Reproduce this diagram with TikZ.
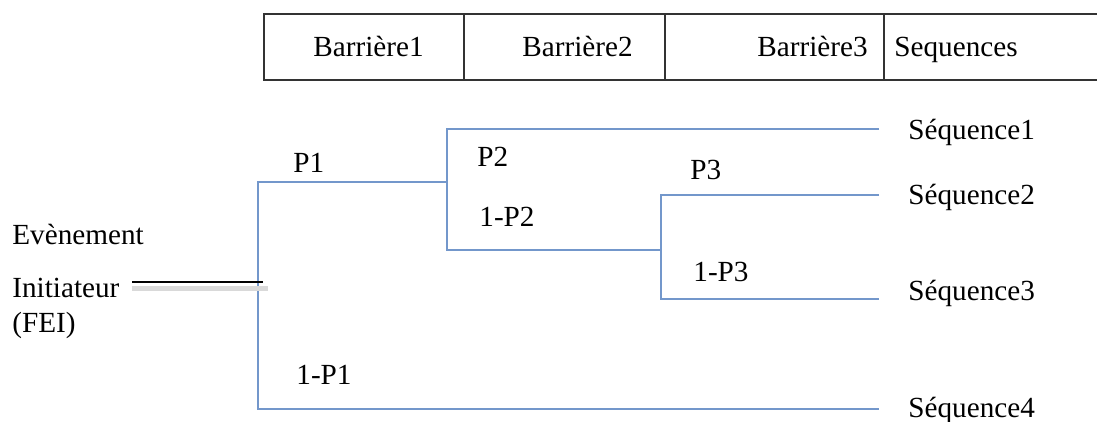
\documentclass[tikz,border=0pt]{standalone}
\usepackage{fontspec}
\setmainfont{Liberation Serif}
\definecolor{branchblue}{HTML}{7397CB}

\begin{document}
\begin{tikzpicture}[
    x=0.5pt,
    y=-0.5pt,
    branch/.style={branchblue,line width=1pt},
    cell/.style={black!80,line width=0.9pt},
    lbl/.style={anchor=base west,inner sep=0pt,font=\fontsize{14.6}{17}\selectfont},
  ]
  \useasboundingbox (0,0) rectangle (1097,422);
  % header
  \draw[cell] (1097,14) -- (264,14) -- (264,80) -- (1097,80);
  \foreach \x in {464,665,884}
    \draw[cell] (\x,14) -- (\x,80);
  \foreach \n/\x/\t in {barA/313/Barrière1,barB/522/Barrière2,barC/757/Barrière3,seqs/894/Sequences}
    \node[lbl] (\n) at (\x,57) {\t};
  % branch points
  \coordinate (fei) at (132,282);
  \coordinate (root) at (263,282);
  \coordinate (a1) at (258,182);
  \coordinate (a0) at (258,409);
  \coordinate (b) at (447,182);
  \coordinate (b1) at (447,129);
  \coordinate (b0) at (447,250);
  \coordinate (c) at (661,250);
  \coordinate (c1) at (661,195);
  \coordinate (c0) at (661,299);
  \foreach \i/\yy in {1/129,2/195,3/299,4/409}
    \coordinate (e\i) at (879,\yy);
  % tree
  \draw[branch] (b) -- (a1) -- (a0) -- (e4);
  \draw[branch] (e1) -- (b1) -- (b0) -- (c);
  \draw[branch] (e2) -- (c1) -- (c0) -- (e3);
  \draw[gray!30,line width=2.4pt] ([yshift=-3.2pt]fei) -- ([xshift=2.5pt,yshift=-3.2pt]root);
  \draw[black,line width=1.4pt] (fei) -- (root);
  % labels
  \node[lbl] (ev) at (12,245) {Evènement};
  \node[lbl] (init) at (12,298) {Initiateur};
  \node[lbl] (fe) at (12,332) {(FEI)};
  \node[lbl] (p1) at (293,173) {P1};
  \node[lbl] (p2) at (477,167) {P2};
  \node[lbl] (q2) at (479,227) {1-P2};
  \node[lbl] (p3) at (690,180) {P3};
  \node[lbl] (q3) at (693,282) {1-P3};
  \node[lbl] (q1) at (296,384) {1-P1};
  \foreach \i/\yy in {1/140,2/205,3/300,4/417}
    \node[lbl] (seq\i) at (908,\yy) {Séquence\i};
\end{tikzpicture}
\end{document}
